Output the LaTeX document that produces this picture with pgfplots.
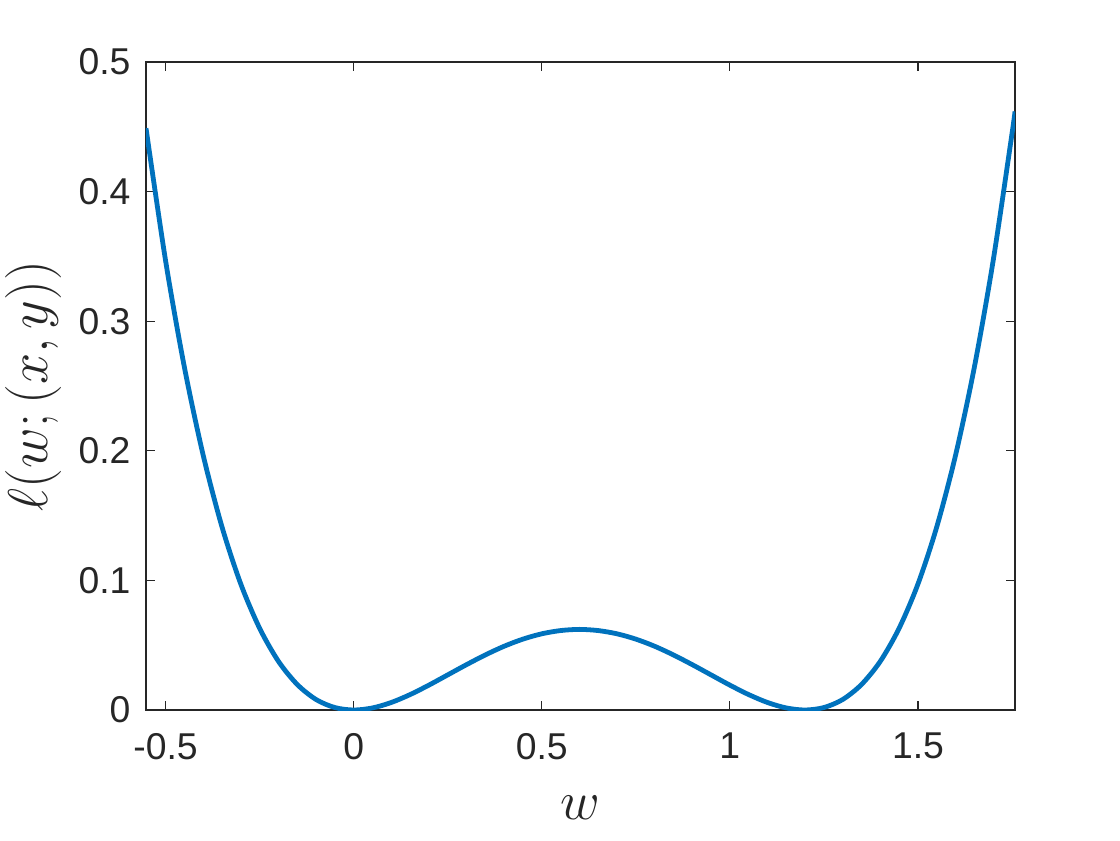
\RequirePackage{fix-cm}
\documentclass[border=0pt]{standalone}
\usepackage{fontspec}
\setmainfont{Liberation Sans}
\usepackage{pgfplots}
\pgfplotsset{compat=1.18}
\definecolor{mblue}{HTML}{0072BD}
\definecolor{axgray}{HTML}{262626}
\begin{document}
\begin{tikzpicture}
\fill[white] (-109.5pt,-97.5pt) rectangle (730.5pt,532.5pt);
\useasboundingbox (-109.5pt,-97.5pt) rectangle (730.5pt,532.5pt);
\begin{axis}[
  at={(0,0)}, anchor=south west,
  scale only axis, width=651.75pt, height=486pt,
  xmin=-0.552, xmax=1.758, ymin=0, ymax=0.5,
  axis line style={axgray, line width=0.9pt},
  tick style={axgray, line width=0.9pt},
  major tick length=6.5pt,
  tick align=inside,
  xtick={-0.5,0,0.5,1,1.5},
  xticklabels={-0.5,0,0.5,1,1.5},
  ytick={0,0.1,0.2,0.3,0.4,0.5},
  yticklabels={0,0.1,0.2,0.3,0.4,0.5},
  xticklabel style={font=\fontsize{28}{32}\selectfont, text=axgray, inner sep=0pt, anchor=north, yshift=-17pt},
  yticklabel style={font=\fontsize{28}{32}\selectfont, text=axgray, inner sep=0pt, anchor=east, xshift=-11.5pt},
  every axis x label/.style={at={(rel axis cs:0.5,0)}, yshift=-73pt, anchor=center, font=\fontsize{41}{48}\selectfont, text=axgray},
  every axis y label/.style={at={(rel axis cs:0,0.5)}, xshift=-84pt, rotate=90, anchor=center, font=\fontsize{42}{48}\selectfont, text=axgray},
  xlabel={$w$},
  ylabel={$\ell(w;(x,y))$},
  clip=true,
]
\addplot[mblue, line width=3.6pt, smooth] coordinates {
(-0.552,0.4489) (-0.50,0.3468) (-0.45,0.2646) (-0.40,0.1966) (-0.35,0.1413)
(-0.30,0.0972) (-0.25,0.0631) (-0.20,0.0376) (-0.15,0.0197) (-0.10,0.0081)
(-0.05,0.0019) (0,0) (0.05,0.0016) (0.10,0.0058) (0.15,0.0119) (0.20,0.0192)
(0.25,0.0271) (0.30,0.0350) (0.35,0.0425) (0.40,0.0492) (0.45,0.0547)
(0.50,0.0588) (0.55,0.0613) (0.60,0.0622) (0.65,0.0613) (0.70,0.0588)
(0.75,0.0547) (0.80,0.0492) (0.85,0.0425) (0.90,0.0350) (0.95,0.0271)
(1.00,0.0192) (1.05,0.0119) (1.10,0.0058) (1.15,0.0016) (1.20,0)
(1.25,0.0019) (1.30,0.0081) (1.35,0.0197) (1.40,0.0376) (1.45,0.0631)
(1.50,0.0972) (1.55,0.1413) (1.60,0.1966) (1.65,0.2646) (1.70,0.3468)
(1.75,0.4447) (1.758,0.4619)
};
\end{axis}
\end{tikzpicture}
\end{document}
